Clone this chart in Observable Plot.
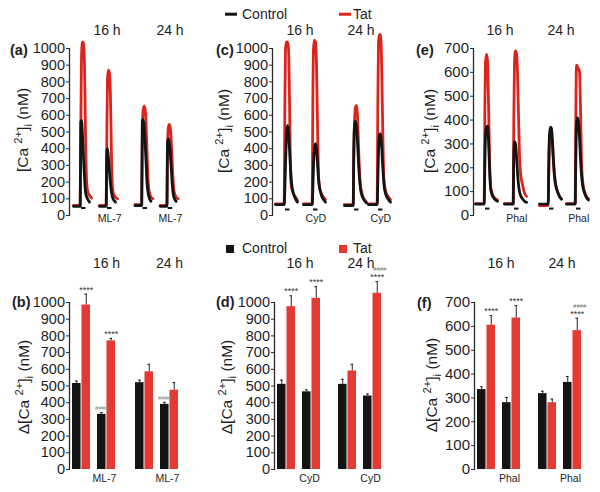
<!DOCTYPE html>
<html>
<head>
<meta charset="utf-8">
<script src="https://cdn.jsdelivr.net/npm/d3@7"></script>
<script src="https://cdn.jsdelivr.net/npm/@observablehq/plot@0.6"></script>
<style>
  html, body { margin: 0; padding: 0; background: #fff; }
  #fig { position: relative; width: 600px; height: 492px; overflow: hidden; font-family: "Liberation Sans", Arial, Helvetica, sans-serif; color: #1e1e1e; }
  #fig sup { font-size: 0.72em; vertical-align: 0.55em; line-height: 0; }
  #fig sub { font-size: 0.72em; vertical-align: -0.3em; line-height: 0; }
</style>
</head>
<body>
<div id="fig"></div>
<script>
// ---------------- DATA ----------------
const times = ["16 h", "24 h"];
const conds = ["none", "drug"];          // order inside each time: untreated, treated
const drugs = ["ML-7", "CyD", "Phal"];
const legendItems = ["Control", "Tat"];
const yTicks1000 = [0, 100, 200, 300, 400, 500, 600, 700, 800, 900, 1000];
const yTicks700 = [0, 100, 200, 300, 400, 500, 600, 700];

// Traces: sample times (s) relative to response onset; onsets (s) in each time block
// recording order: 16 h untreated, 16 h treated, 24 h untreated, 24 h treated
const relA = [-7, -0.3, 0.3, 1, 2, 3, 4, 5, 6, 7, 9, 11];
const relCE = [-9, -0.3, 0.3, 1, 2, 3, 4, 5, 6, 7, 9, 11, 13];
const stimRel = [1, 5.5];               // stimulus bar (s relative to onset)

const onsetA = [10, 36, 8.5, 33.7];
const tatA = [
  [60, 60, 500, 950, 1040, 1030, 900, 500, 220, 150, 120, 105],
  [60, 60, 450, 820, 870, 850, 700, 350, 170, 130, 110, 100],
  [65, 65, 450, 620, 655, 640, 560, 380, 220, 150, 110, 100],
  [60, 60, 380, 520, 545, 530, 450, 320, 200, 140, 110, 100]
];
const ctlA = [
  [55, 55, 560, 570, 480, 350, 230, 140, 115, 100, 80, null],
  [55, 55, 390, 400, 340, 260, 190, 140, 110, 95, 80, null],
  [60, 60, 560, 575, 540, 450, 330, 200, 140, 110, 85, null],
  [55, 55, 430, 460, 440, 380, 290, 190, 130, 105, 85, null]
];

const onsetC = [11, 39, 19, 43];
const tatC = [
  [70, 70, 600, 1000, 1040, 1040, 1000, 700, 250, 170, 130, 110, 90],
  [70, 70, 650, 1000, 1050, 1040, 900, 550, 250, 170, 130, 110, 95],
  [65, 65, 350, 560, 650, 660, 600, 420, 260, 180, 120, 95, 80],
  [70, 70, 650, 1040, 1085, 1080, 950, 600, 280, 180, 130, 110, 95]
];
const ctlC = [
  [65, 65, 150, 300, 480, 540, 500, 400, 290, 200, 130, 100, 80],
  [65, 65, 150, 300, 400, 430, 400, 310, 220, 170, 120, 95, 80],
  [60, 60, 400, 540, 565, 530, 440, 320, 220, 160, 110, 90, 75],
  [65, 65, 200, 380, 480, 490, 430, 320, 220, 160, 115, 95, 80]
];

const onsetE = [10, 39, 13, 40];
const tatE = [
  [50, 50, 400, 640, 675, 650, 480, 250, 130, 100, 80, 70, 65],
  [50, 50, 400, 640, 690, 680, 600, 420, 250, 180, 130, 95, 80],
  [42, 42, 200, 310, 340, 335, 290, 220, 160, 130, 100, 80, 70],
  [50, 50, 400, 630, 625, 615, 605, 450, 230, 150, 100, 80, 70]
];
const ctlE = [
  [48, 48, 200, 330, 370, 375, 320, 200, 120, 95, 75, 65, 60],
  [48, 48, 250, 310, 300, 250, 180, 130, 100, 85, 70, 60, 55],
  [48, 48, 220, 340, 370, 365, 310, 230, 170, 135, 100, 80, 68],
  [48, 48, 230, 380, 410, 390, 330, 240, 170, 130, 95, 75, 65]
];

// Bars: mean and SEM, order 16 h untreated, 16 h treated, 24 h untreated, 24 h treated
const ctlB = [515, 330, 520, 390], ctlBErr = [15, 10, 15, 12];
const tatB = [985, 770, 585, 475], tatBErr = [65, 15, 45, 45];
const tatBStar = ["****", "****", "", ""], tatBHash = ["", "", "", ""], ctlBHash = ["", "####", "", "####"];

const ctlD = [510, 465, 510, 440], ctlDErr = [25, 12, 30, 12];
const tatD = [975, 1025, 590, 1055], tatDErr = [65, 70, 40, 70];
const tatDStar = ["****", "****", "", "****"], tatDHash = ["", "", "", "####"], ctlDHash = ["", "", "", ""];

const ctlF = [335, 280, 318, 365], ctlFErr = [12, 22, 10, 25];
const tatF = [605, 635, 280, 582], tatFErr = [40, 52, 15, 52];
const tatFStar = ["****", "****", "", "****"], tatFHash = ["", "", "", "####"], ctlFHash = ["", "", "", ""];

// ---------------- STYLE ----------------
const FONT = '"Liberation Sans", Arial, Helvetica, sans-serif';
const RED_LINE = "#dc241c", RED_BAR = "#e33a33", BLACK = "#141414", AXIS = "#2a2a2a";
const fig = document.getElementById("fig");

function place(node, left, top) {
  node.style.position = "absolute";
  node.style.left = left + "px";
  node.style.top = top + "px";
  fig.appendChild(node);
}
function addText(html, x, y, css = {}) {
  const d = document.createElement("div");
  d.innerHTML = html;
  Object.assign(d.style, {position: "absolute", left: x + "px", top: y + "px", transform: "translate(0,-50%)",
    whiteSpace: "nowrap", fontFamily: FONT, lineHeight: "1", color: "#1e1e1e"}, css);
  fig.appendChild(d);
  return d;
}
function addAxisLine(chart, o) {
  const y = chart.scale("y");
  d3.select(chart).append("line")
    .attr("x1", o.ml - 0.5).attr("x2", o.ml - 0.5)
    .attr("y1", y.apply(0)).attr("y2", y.apply(o.yMax))
    .attr("stroke", AXIS).attr("stroke-width", 1.3);
}

function tracePanel(o) {
  const tatPts = [], ctlPts = [], recs = [];
  let k = 0;
  for (const time of times) for (const cond of conds) {
    const on = o.onsets[k];
    o.rel.forEach((r, i) => {
      if (o.tat[k][i] != null) tatPts.push({time, id: k, t: on + r, v: o.tat[k][i]});
      if (o.ctl[k][i] != null) ctlPts.push({time, id: k, t: on + r, v: o.ctl[k][i]});
    });
    recs.push({time, cond, t1: on + stimRel[0], t2: on + stimRel[1], level: o.stimLevel,
      label: cond === "drug" ? o.drug : ""});
    k++;
  }
  const chart = Plot.plot({
    width: o.w, height: o.h,
    marginLeft: o.ml, marginRight: o.mr, marginTop: o.mt, marginBottom: o.mb,
    style: {fontFamily: FONT, background: "transparent", overflow: "visible", color: "#1e1e1e"},
    fx: {domain: times, paddingInner: o.fxPad, paddingOuter: 0, axis: null},
    x: {domain: [0, 48], axis: null},
    y: {domain: [0, o.yMax], axis: null},
    marks: [
      Plot.axisY({ticks: o.yTicks, tickSize: 4, tickPadding: 1.5, tickFormat: d => String(d), fontSize: o.fs, label: null, stroke: AXIS}),
      Plot.line(tatPts, {fx: "time", x: "t", y: "v", z: "id", stroke: RED_LINE, strokeWidth: 2.8, curve: "monotone-x"}),
      Plot.line(ctlPts, {fx: "time", x: "t", y: "v", z: "id", stroke: BLACK, strokeWidth: 2.8, curve: "monotone-x"}),
      Plot.ruleY(recs, {fx: "time", y: "level", x1: "t1", x2: "t2", stroke: BLACK, strokeWidth: 2}),
      Plot.text(recs.filter(d => d.label), {fx: "time", x: d => (d.t1 + d.t2) / 2, text: "label",
        frameAnchor: "bottom", lineAnchor: "middle", dy: 3, fontSize: 10.5}),
      Plot.text(times, {fx: d => d, text: d => d, frameAnchor: "top", lineAnchor: "middle", dy: -18, dx: o.hdx, fontSize: 14})
    ]
  });
  addAxisLine(chart, o);
  place(chart, o.left, o.top);
}

function barPanel(o) {
  const rows = [];
  let k = 0;
  for (const time of times) for (const cond of conds) {
    rows.push({time, cond, ctl: o.ctl[k], ctlErr: o.ctlErr[k], tat: o.tat[k], tatErr: o.tatErr[k],
      tatStar: o.tatStar[k], tatHash: o.tatHash[k], ctlHash: o.ctlHash[k]});
    k++;
  }
  const xPadIn = 0.27, xPadOut = 0.06;
  const range = o.w - o.mr - o.ml;
  const facetW = range / (2 - o.fxPad) * (1 - o.fxPad);
  const bw = facetW / (2 - xPadIn + 2 * xPadOut) * (1 - xPadIn);
  const q = bw / 4;
  const cap = 1.8;
  const starDy = -4.5;
  const chart = Plot.plot({
    width: o.w, height: o.h,
    marginLeft: o.ml, marginRight: o.mr, marginTop: o.mt, marginBottom: o.mb,
    style: {fontFamily: FONT, background: "transparent", overflow: "visible", color: "#1e1e1e"},
    fx: {domain: times, paddingInner: o.fxPad, paddingOuter: 0, axis: null},
    x: {domain: conds, paddingInner: xPadIn, paddingOuter: xPadOut, axis: null},
    y: {domain: [0, o.yMax], axis: null},
    marks: [
      Plot.axisY({ticks: o.yTicks, tickSize: 4, tickPadding: 1.5, tickFormat: d => String(d), fontSize: o.fs, label: null, stroke: AXIS}),
      Plot.axisX({tickSize: 0, tickPadding: 5, tickFormat: d => d === "drug" ? o.drug : "", fontSize: 10.5, dx: -2, label: null}),
      Plot.barY(rows, {fx: "time", x: "cond", y: "ctl", fill: BLACK, insetRight: bw / 2}),
      Plot.barY(rows, {fx: "time", x: "cond", y: "tat", fill: RED_BAR, insetLeft: bw / 2}),
      Plot.ruleX(rows, {fx: "time", x: "cond", y1: "ctl", y2: d => d.ctl + d.ctlErr, dx: -q, stroke: "#222", strokeWidth: 1}),
      Plot.ruleX(rows, {fx: "time", x: "cond", y1: "tat", y2: d => d.tat + d.tatErr, dx: q, stroke: "#222", strokeWidth: 1}),
      Plot.tickY(rows, {fx: "time", x: "cond", y: d => d.ctl + d.ctlErr, insetLeft: q - cap, insetRight: 3 * q - cap, stroke: "#222", strokeWidth: 1}),
      Plot.tickY(rows, {fx: "time", x: "cond", y: d => d.tat + d.tatErr, insetLeft: 3 * q - cap, insetRight: q - cap, stroke: "#222", strokeWidth: 1}),
      Plot.text(rows.filter(d => d.tatStar), {fx: "time", x: "cond", y: d => d.tat + d.tatErr, dx: q, dy: starDy, text: "tatStar", fontSize: 9, fill: "#333"}),
      Plot.text(rows.filter(d => d.tatHash), {fx: "time", x: "cond", y: d => d.tat + d.tatErr, dx: q + 2.5, dy: starDy - 8, text: "tatHash", fontSize: 6, fill: "#777", fontStyle: "italic"}),
      Plot.text(rows.filter(d => d.ctlHash), {fx: "time", x: "cond", y: d => d.ctl + d.ctlErr, dx: -q, dy: -4.5, text: "ctlHash", fontSize: 6, fill: "#888", fontStyle: "italic"}),
      Plot.text(times, {fx: d => d, text: d => d, frameAnchor: "top", lineAnchor: "middle", dy: -38.5, dx: o.hdx, fontSize: 14})
    ]
  });
  addAxisLine(chart, o);
  place(chart, o.left, o.top);
}

// ---------------- PANELS ----------------
tracePanel({left: 0, top: 0, w: 195, h: 240, ml: 70, mr: 14, mt: 48, mb: 25, fxPad: 15 / 63,
  yMax: 1000, yTicks: yTicks1000, rel: relA, onsets: onsetA, tat: tatA, ctl: ctlA, drug: drugs[0],
  stimLevel: 45, hdx: 12.5, fs: 14.5});
tracePanel({left: 195, top: 0, w: 200, h: 240, ml: 78, mr: 13, mt: 48, mb: 25, fxPad: 13 / 61,
  yMax: 1000, yTicks: yTicks1000, rel: relCE, onsets: onsetC, tat: tatC, ctl: ctlC, drug: drugs[1],
  stimLevel: 36, hdx: 2.5, fs: 14.5});
tracePanel({left: 395, top: 0, w: 205, h: 240, ml: 79, mr: 17, mt: 48, mb: 25, fxPad: 13 / 61,
  yMax: 700, yTicks: yTicks700, rel: relCE, onsets: onsetE, tat: tatE, ctl: ctlE, drug: drugs[2],
  stimLevel: 29, hdx: 1.5, fs: 15});

barPanel({left: 0, top: 240, w: 195, h: 252, ml: 70, mr: 14, mt: 62, mb: 23, fxPad: 15 / 63,
  yMax: 1000, yTicks: yTicks1000, ctl: ctlB, ctlErr: ctlBErr, tat: tatB, tatErr: tatBErr,
  tatStar: tatBStar, tatHash: tatBHash, ctlHash: ctlBHash, drug: drugs[0], hdx: 12, fs: 14.5});
barPanel({left: 195, top: 240, w: 200, h: 252, ml: 80, mr: 11, mt: 62, mb: 23, fxPad: 13 / 61,
  yMax: 1000, yTicks: yTicks1000, ctl: ctlD, ctlErr: ctlDErr, tat: tatD, tatErr: tatDErr,
  tatStar: tatDStar, tatHash: tatDHash, ctlHash: ctlDHash, drug: drugs[1], hdx: 0.5, fs: 14.5});
barPanel({left: 395, top: 240, w: 205, h: 252, ml: 80, mr: 16, mt: 62, mb: 23, fxPad: 13 / 61,
  yMax: 700, yTicks: yTicks700, ctl: ctlF, ctlErr: ctlFErr, tat: tatF, tatErr: tatFErr,
  tatStar: tatFStar, tatHash: tatFHash, ctlHash: ctlFHash, drug: drugs[2], hdx: 1.5, fs: 15});

// ---------------- TEXT: legends, letters, axis titles ----------------
// line legend (top)
[[225, 242, BLACK], [339, 353, RED_LINE]].forEach(([lx, tx, c], i) => {
  const s = document.createElement("div");
  Object.assign(s.style, {width: "12px", height: "2.6px", background: c, transform: "translate(0,-50%)"});
  place(s, lx, 14);
  addText(legendItems[i], tx, 14, {fontSize: "14px"});
});
// square legend (bottom)
[[226, 242, BLACK], [339, 353, RED_BAR]].forEach(([lx, tx, c], i) => {
  const s = document.createElement("div");
  Object.assign(s.style, {width: "7.5px", height: "7.5px", background: c});
  place(s, lx, 245);
  addText(legendItems[i], tx, 248, {fontSize: "14px"});
});

const letters = [["(a)", 10, 50], ["(b)", 12, 302], ["(c)", 216, 50], ["(d)", 216, 302], ["(e)", 416, 50], ["(f)", 417, 303]];
letters.forEach(([t, x, y]) => addText(t, x, y, {fontSize: "14.5px", fontWeight: "bold"}));

const rot = {transform: "translate(-50%,-50%) rotate(-90deg)", fontSize: "15.5px"};
const caTitle = "[Ca <sup>2+</sup>]<sub>i</sub> (nM)";
const dCaTitle = "\u0394[Ca <sup>2+</sup>]<sub>i</sub> (nM)";
[[23, 130, caTitle], [224, 131, caTitle], [430, 131, caTitle],
 [24, 387, dCaTitle], [227, 387, dCaTitle], [432, 385, dCaTitle]].forEach(([x, y, t]) => addText(t, x, y, rot));
</script>
</body>
</html>
